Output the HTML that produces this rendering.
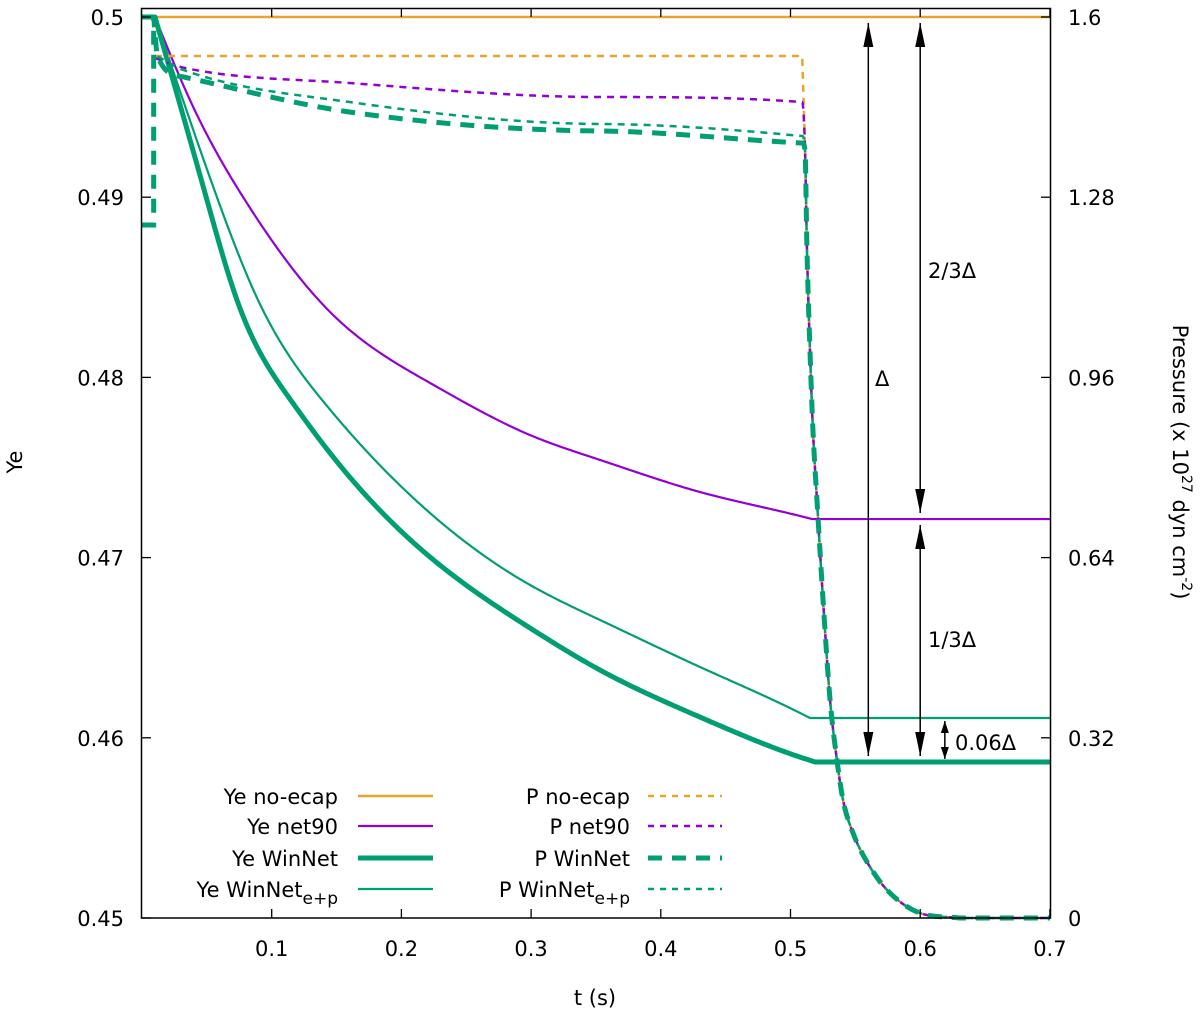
<!DOCTYPE html>
<html><head><meta charset="utf-8"><style>
body{margin:0;background:#fff}
svg{display:block;font-family:"DejaVu Sans","Liberation Sans",sans-serif}
</style></head><body>
<svg id="chart" width="1200" height="1017" viewBox="0 0 1200 1017" xmlns="http://www.w3.org/2000/svg">
<rect x="0" y="0" width="1200" height="1017" fill="#fff"/>
<g id="series"></g>
<g id="axes"></g>
<g id="annot"></g>
<g id="legend"></g>
<text x="595" y="1005" text-anchor="middle" font-size="21">t (s)</text>
<text transform="translate(22,462) rotate(-90)" text-anchor="middle" font-size="21">Ye</text>
<text transform="translate(1173,462) rotate(90)" text-anchor="middle" font-size="21">Pressure (x 10<tspan dy="-9" font-size="14">27</tspan><tspan dy="9"> dyn cm</tspan><tspan dy="-9" font-size="14">-2</tspan><tspan dy="9">)</tspan></text>
</svg>
<script>
// ---- data ----
const xTicks = [0.1,0.2,0.3,0.4,0.5,0.6,0.7];
const yeTicks = [0.45,0.46,0.47,0.48,0.49,0.5];
const pTicks = [0,0.32,0.64,0.96,1.28,1.6];
const pTickLabels = ["0","0.32","0.64","0.96","1.28","1.6"];

const yeNoEcapT = [0,0.7];
const yeNoEcapV = [0.5,0.5];
const yeNet90T = [0.01,0.037,0.0794,0.145,0.2221,0.2992,0.3531,0.4302,0.5073,0.5166,0.7];
const yeNet90V = [0.5,0.49539,0.48984,0.48363,0.47969,0.4768,0.47542,0.47364,0.47231,0.47214,0.47214];
const yeEpT = [0.01,0.0586,0.0894,0.1388,0.2221,0.2992,0.3531,0.4302,0.5073,0.515,0.7];
const yeEpV = [0.5,0.48984,0.4843,0.47875,0.47247,0.46848,0.46654,0.46393,0.46138,0.4611,0.4611];
const yeWinT = [0,0.01,0.0501,0.0732,0.1126,0.145,0.2221,0.2992,0.3531,0.4302,0.5073,0.5189,0.7];
const yeWinV = [0.5,0.5,0.48984,0.4843,0.47895,0.4758,0.47003,0.46609,0.46376,0.46115,0.45893,0.45866,0.45866];

const pNoEcapT = [0.01,0.509];
const pNoEcapV = [1.5307,1.5307];
const pNet90T = [0.01,0.032,0.16,0.353,0.509];
const pNet90V = [1.527,1.51,1.4828,1.4579,1.449];
const pEpT = [0.012,0.032,0.16,0.353,0.509];
const pEpV = [1.53,1.5059,1.449,1.41,1.3886];
const pWinT = [0,0.009,0.009,0.012,0.032,0.16,0.353,0.509];
const pWinV = [1.2306,1.2306,1.6,1.53,1.4935,1.4313,1.3976,1.3762];
const dropT = [0.5112,0.5127,0.515,0.5173,0.5204,0.5251,0.5305,0.5358,0.5405,0.5482,0.5613,0.5767,0.5998,0.6307,0.7];
const dropV = [1.3638,1.1862,1.0087,0.8666,0.7423,0.5647,0.3871,0.2806,0.2095,0.1509,0.0906,0.0444,0.0089,0,0];

// ---- scales ----
const X0=142, XS=1297;
function xs(t){return X0+t*XS;}
function ys(v){return 17+(0.5-v)*18020;}
function ps(p){return 918-p*901/1.6;}
const NS="http://www.w3.org/2000/svg";
function mk(tag,attrs,parent){const e=document.createElementNS(NS,tag);for(const k in attrs)e.setAttribute(k,attrs[k]);parent.appendChild(e);return e;}

// natural cubic spline run
function splineRun(p){
  const n=p.length; let d="";
  if(n<2)return d;
  if(n===2)return " L"+p[1][0].toFixed(2)+","+p[1][1].toFixed(2);
  const h=[],al=[],l=[1],mu=[0],z=[0],c=new Array(n).fill(0),b=[],dd=[];
  for(let i=0;i<n-1;i++)h[i]=p[i+1][0]-p[i][0];
  for(let i=1;i<n-1;i++)al[i]=3/h[i]*(p[i+1][1]-p[i][1])-3/h[i-1]*(p[i][1]-p[i-1][1]);
  for(let i=1;i<n-1;i++){l[i]=2*(p[i+1][0]-p[i-1][0])-h[i-1]*mu[i-1];mu[i]=h[i]/l[i];z[i]=(al[i]-h[i-1]*z[i-1])/l[i];}
  for(let j=n-2;j>=0;j--){
    if(j>0)c[j]=z[j]-mu[j]*c[j+1];
    b[j]=(p[j+1][1]-p[j][1])/h[j]-h[j]*(c[j+1]+2*c[j])/3;
    dd[j]=(c[j+1]-c[j])/(3*h[j]);
  }
  for(let i=0;i<n-1;i++){
    const steps=Math.max(2,Math.ceil(h[i]/2));
    for(let s=1;s<=steps;s++){
      const u=h[i]*s/steps;
      const y=p[i][1]+b[i]*u+c[i]*u*u+dd[i]*u*u*u;
      d+=" L"+(p[i][0]+u).toFixed(2)+","+y.toFixed(2);
    }
  }
  return d;
}
// monotone cubic run
function monoRun(p){
  const n=p.length; let d="";
  if(n<2)return d;
  if(n===2)return " L"+p[1][0].toFixed(2)+","+p[1][1].toFixed(2);
  const dx=[],m=[],tg=[];
  for(let i=0;i<n-1;i++){dx[i]=p[i+1][0]-p[i][0];m[i]=(p[i+1][1]-p[i][1])/dx[i];}
  tg[0]=m[0];tg[n-1]=m[n-2];
  for(let i=1;i<n-1;i++){tg[i]=(m[i-1]*m[i]<=0)?0:(m[i-1]+m[i])/2;}
  for(let i=0;i<n-1;i++){
    if(m[i]===0){tg[i]=0;tg[i+1]=0;continue;}
    const a=tg[i]/m[i],b=tg[i+1]/m[i],s=a*a+b*b;
    if(s>9){const t=3/Math.sqrt(s);tg[i]=t*a*m[i];tg[i+1]=t*b*m[i];}
  }
  for(let i=0;i<n-1;i++){
    const h=dx[i]/3;
    d+=" C"+(p[i][0]+h).toFixed(2)+","+(p[i][1]+tg[i]*h).toFixed(2)+" "+(p[i+1][0]-h).toFixed(2)+","+(p[i+1][1]-tg[i+1]*h).toFixed(2)+" "+p[i+1][0].toFixed(2)+","+p[i+1][1].toFixed(2);
  }
  return d;
}
function smoothPath(pts,runFn){
  let d="M"+pts[0][0].toFixed(2)+","+pts[0][1].toFixed(2);
  let run=[pts[0]];
  for(let i=1;i<pts.length;i++){
    const last=run[run.length-1];
    const vertical=pts[i][0]-last[0]<0.8;
    const flatPrev=run.length>1 && Math.abs(last[1]-run[run.length-2][1])<0.01 && Math.abs(pts[i][1]-last[1])>=0.01;
    const flatNext=run.length>1 && Math.abs(pts[i][1]-last[1])<0.01 && Math.abs(last[1]-run[run.length-2][1])>=0.01;
    if(vertical){
      d+=runFn(run);
      d+=" L"+pts[i][0].toFixed(2)+","+pts[i][1].toFixed(2);
      run=[pts[i]];
    } else if(flatPrev||flatNext){
      d+=runFn(run);
      run=[last,pts[i]];
    } else run.push(pts[i]);
  }
  d+=runFn(run);
  return d;
}
const ORANGE="#eba42a",PURPLE="#9400d3",GREEN="#009e73";
const S=document.getElementById('series');
function yeLine(T,V,name,color,w){
  const pts=T.map((t,i)=>[xs(t),ys(V[i])]);
  const p=mk('path',{d:smoothPath(pts,splineRun),fill:'none',stroke:color,'stroke-width':w,'stroke-linejoin':'round'},S);
  
  
}
function pLine(T,V,name,color,w,dash){
  const pts=T.map((t,i)=>[xs(t),ps(V[i])]).concat(dropT.map((t,i)=>[xs(t),ps(dropV[i])]));
  const p=mk('path',{d:smoothPath(pts,monoRun),fill:'none',stroke:color,'stroke-width':w,'stroke-dasharray':dash},S);
  
  
}
yeLine(yeNoEcapT,yeNoEcapV,'ye-no-ecap-line',ORANGE,2.5);
yeLine(yeNet90T,yeNet90V,'ye-net90-line',PURPLE,2.2);
yeLine(yeEpT,yeEpV,'ye-winnet-ep-line',GREEN,2.2);
yeLine(yeWinT,yeWinV,'ye-winnet-line',GREEN,5);
pLine(pNoEcapT,pNoEcapV,'p-no-ecap-line',ORANGE,2.5,'7,6');
pLine(pNet90T,pNet90V,'p-net90-line',PURPLE,2.5,'7,6');
pLine(pEpT,pEpV,'p-winnet-ep-line',GREEN,2.5,'7,6');
pLine(pWinT,pWinV,'p-winnet-line',GREEN,5,'14,10');

// ---- axes ----
const A=document.getElementById('axes');
const frame=mk('rect',{x:141.5,y:8.5,width:909,height:909.5,fill:'none',stroke:'#000','stroke-width':1.5},A);


xTicks.forEach(t=>{
  const x=xs(t);
  mk('line',{x1:x,y1:918,x2:x,y2:909,stroke:'#000','stroke-width':1.3},A);
  mk('line',{x1:x,y1:8,x2:x,y2:17,stroke:'#000','stroke-width':1.3},A);
  const tx=mk('text',{x:x,y:956,'text-anchor':'middle','font-size':21,fill:'#000'},A);
  tx.textContent=String(t);
  
  
});
yeTicks.forEach(v=>{
  const y=ys(v);
  mk('line',{x1:141,y1:y,x2:151,y2:y,stroke:'#000','stroke-width':1.3},A);
  const tx=mk('text',{x:124,y:y+8,'text-anchor':'end','font-size':21,fill:'#000'},A);
  tx.textContent=v.toFixed(v===0.5?1:2);
  
  
});
pTicks.forEach((p,i)=>{
  const y=ps(p);
  mk('line',{x1:1051,y1:y,x2:1041,y2:y,stroke:'#000','stroke-width':1.3},A);
  const tx=mk('text',{x:1068,y:y+8,'text-anchor':'start','font-size':21,fill:'#000'},A);
  tx.textContent=pTickLabels[i];
  
  
});

// ---- annotations ----
const AN=document.getElementById('annot');
function arrowHead(x,y,dir){
  const h=mk('polygon',{points:`${x},${y} ${x-5},${y-dir*24} ${x+5},${y-dir*24}`,fill:'#000'},AN);
  
  
}
function dArrow(x,v1,v2,name){
  const y1=ys(v1)+6,y2=ys(v2)-6;
  const l=mk('line',{x1:x,y1:y1,x2:x,y2:y2,stroke:'#000','stroke-width':1.5},AN);
  
  
  arrowHead(x,y1,-1);arrowHead(x,y2,1);
}
const finalNet90=yeNet90V[yeNet90V.length-1], finalEp=yeEpV[yeEpV.length-1], finalWin=yeWinV[yeWinV.length-1];
dArrow(xs(0.56),0.5,finalWin,'delta-arrow');
dArrow(xs(0.6),0.5,finalNet90,'two-thirds-delta-arrow');
dArrow(xs(0.6),finalNet90,finalWin,'one-third-delta-arrow');
(function(){const x=xs(0.619),y1=ys(finalEp)+3,y2=ys(finalWin)-3;
 const l=mk('line',{x1:x,y1:y1,x2:x,y2:y2,stroke:'#000','stroke-width':1.5},AN);
 
 
 mk('polygon',{points:`${x},${y1} ${x-4},${y1+12} ${x+4},${y1+12}`,fill:'#000'},AN);
 mk('polygon',{points:`${x},${y2} ${x-4},${y2-12} ${x+4},${y2-12}`,fill:'#000'},AN);})();
function lab(x,y,t,name){const e=mk('text',{x:x,y:y,'font-size':21,fill:'#000'},AN);e.textContent=t;
 
 }
lab(875,386,'Δ','delta-label');
lab(928,278,'2/3Δ','two-thirds-delta-label');
lab(928,647,'1/3Δ','one-third-delta-label');
lab(955,750,'0.06Δ','small-delta-label');

// ---- legend ----
const L=document.getElementById('legend');
const legLeft=[['Ye no-ecap',ORANGE,2.5,'none',''],['Ye net90',PURPLE,2.2,'none',''],['Ye WinNet',GREEN,5,'none',''],['Ye WinNet',GREEN,2.2,'none','e+p']];
const legRight=[['P no-ecap',ORANGE,2.5,'6,6',''],['P net90',PURPLE,2.5,'6,6',''],['P WinNet',GREEN,5,'14,10',''],['P WinNet',GREEN,2.5,'6,6','e+p']];
const rowsY=[796,826,858,889];
function legCol(items,tx,lx1,lx2){
 items.forEach((it,i)=>{
  const g=mk('g',{},L);
  
  
  const t=mk('text',{x:tx,y:rowsY[i]+8,'text-anchor':'end','font-size':21,fill:'#000'},g);
  t.textContent=it[0];
  if(it[4]){const s=mk('tspan',{dy:7,'font-size':17},t);s.textContent=it[4];}
  mk('line',{x1:lx1,y1:rowsY[i],x2:lx2,y2:rowsY[i],stroke:it[1],'stroke-width':it[2],'stroke-dasharray':it[3]},g);
 });
}
legCol(legLeft,338,358,433);
legCol(legRight,630,648,722);
</script>
</body></html>
